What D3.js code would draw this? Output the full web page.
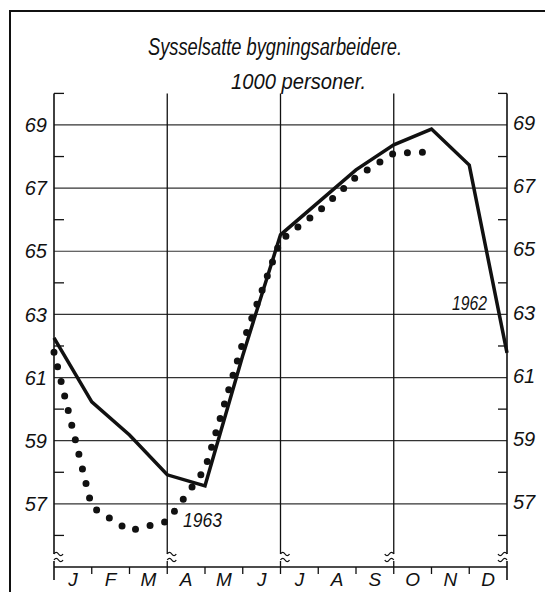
<!DOCTYPE html>
<html><head><meta charset="utf-8">
<script src="https://cdn.jsdelivr.net/npm/d3@7/dist/d3.min.js"></script>
<style>
body{margin:0;background:#fff}
text{font-family:"Liberation Sans",Arial,sans-serif;font-style:italic;fill:#111}
</style>
</head><body>
<svg id="c" width="545" height="592"></svg>
<script>
// ---- data ----
const months = ["J","F","M","A","M","J","J","A","S","O","N","D"];
const yTickLabels = [57,59,61,63,65,67,69];
const yMinorTicks = [56,58,60,62,64,66,68,70];
const quarterLines = [3,6,9];
const boundaryIdx1962 = [0,1,2,3,4,5,6,7,8,9,10,11,12];
const values1962 = [62.26,60.23,59.18,57.92,57.57,61.7,65.52,66.55,67.58,68.37,68.87,67.73,61.78];
const boundaryIdx1963 = [0,1,2,3,4,5,6,7,8,9,10];
const values1963 = [61.8,56.9,56.15,56.45,58.1,62.1,65.35,66.25,67.35,68.1,68.15];
const titleText = "Sysselsatte  bygningsarbeidere.";
const subtitleText = "1000 personer.";

// ---- scales ----
const svg = d3.select("#c");
const x = d3.scaleLinear().domain([0,12]).range([54,507]);
const y = d3.scaleLinear().domain([55,70]).range([567,93.4]);
const ink = "#111";

// frame
svg.append("rect").attr("x",10).attr("y",11).attr("width",570).attr("height",620)
  .attr("fill","none").attr("stroke",ink).attr("stroke-width",2);

// titles
svg.append("text").attr("x",148).attr("y",55).attr("font-size",23)
  .attr("textLength",254).attr("lengthAdjust","spacingAndGlyphs").text(titleText);
svg.append("text").attr("x",231).attr("y",89).attr("font-size",22)
  .attr("textLength",135).attr("lengthAdjust","spacingAndGlyphs").text(subtitleText);

const g = svg.append("g");
const yBottom = y(55);
const gapTop = 554, gapBot = 561;

// horizontal grid lines at odd values
g.selectAll("line.h").data(yTickLabels).join("line")
  .attr("x1",x(0)).attr("x2",x(12)).attr("y1",d=>y(d)).attr("y2",d=>y(d))
  .attr("stroke","#333").attr("stroke-width",1.2);

// minor ticks
g.selectAll("line.ml").data(yMinorTicks).join("line")
  .attr("x1",x(0)).attr("x2",x(0)+10).attr("y1",d=>y(d)).attr("y2",d=>y(d))
  .attr("stroke",ink).attr("stroke-width",1.3);
g.selectAll("line.mr").data(yMinorTicks).join("line")
  .attr("x1",x(12)).attr("x2",x(12)-9).attr("y1",d=>y(d)).attr("y2",d=>y(d))
  .attr("stroke",ink).attr("stroke-width",1.3);

// vertical lines (axes + quarters) with break
const verts = [{i:0,dir:1,end:580},{i:3,dir:1,end:574},{i:6,dir:1,end:574},{i:9,dir:-1,end:574},{i:12,dir:-1,end:580}];
verts.forEach(v=>{
  const xx = x(v.i);
  g.append("line").attr("x1",xx).attr("x2",xx).attr("y1",y(70)).attr("y2",gapTop)
    .attr("stroke",ink).attr("stroke-width",v.i%12===0?1.6:1.3);
  g.append("line").attr("x1",xx).attr("x2",xx).attr("y1",gapBot).attr("y2",v.end)
    .attr("stroke",ink).attr("stroke-width",v.i%12===0?1.6:1.3);
  [gapTop, gapBot-1].forEach(yy=>{
    const d = v.dir;
    g.append("path")
      .attr("d",`M${xx},${yy} q${2.2*d},-3.4 ${4.5*d},0 t${4.5*d},0`)
      .attr("fill","none").attr("stroke",ink).attr("stroke-width",1.3);
  });
});

// bottom axis
g.append("line").attr("x1",x(0)).attr("x2",x(12)).attr("y1",yBottom).attr("y2",yBottom)
  .attr("stroke",ink).attr("stroke-width",1.6);
g.selectAll("line.mt").data(d3.range(1,12).filter(i=>i%3!==0)).join("line")
  .attr("x1",d=>x(d)).attr("x2",d=>x(d)).attr("y1",yBottom).attr("y2",yBottom+7)
  .attr("stroke",ink).attr("stroke-width",1.3);

// y labels
g.selectAll("text.yl").data(yTickLabels).join("text")
  .attr("x",47).attr("y",d=>y(d)).attr("dy","0.36em").attr("text-anchor","end")
  .attr("font-size",20).text(d=>d);
g.selectAll("text.yr").data(yTickLabels).join("text")
  .attr("x",513).attr("y",d=>y(d)-2).attr("dy","0.36em").attr("text-anchor","start")
  .attr("font-size",20).text(d=>d);

// month labels
g.selectAll("text.m").data(months).join("text")
  .attr("x",(d,i)=>x(i+0.5)).attr("y",586).attr("text-anchor","middle")
  .attr("font-size",19).text(d=>d);

// series
const line = d3.line().x(d=>x(d[0])).y(d=>y(d[1]));
g.append("path").datum(boundaryIdx1963.map((b,i)=>[b,values1963[i]]))
  .attr("d",line).attr("fill","none").attr("stroke",ink).attr("stroke-width",7)
  .attr("stroke-linecap","round").attr("stroke-dasharray","0 15");
g.append("path").datum(boundaryIdx1962.map((b,i)=>[b,values1962[i]]))
  .attr("d",line).attr("fill","none").attr("stroke",ink).attr("stroke-width",3.5)
  .attr("stroke-linejoin","miter");

// series labels
svg.append("text").attr("x",452).attr("y",310).attr("font-size",20)
  .attr("textLength",35).attr("lengthAdjust","spacingAndGlyphs").text("1962");
svg.append("text").attr("x",183).attr("y",527).attr("font-size",21)
  .attr("textLength",39).attr("lengthAdjust","spacingAndGlyphs").text("1963");
</script>
</body></html>
